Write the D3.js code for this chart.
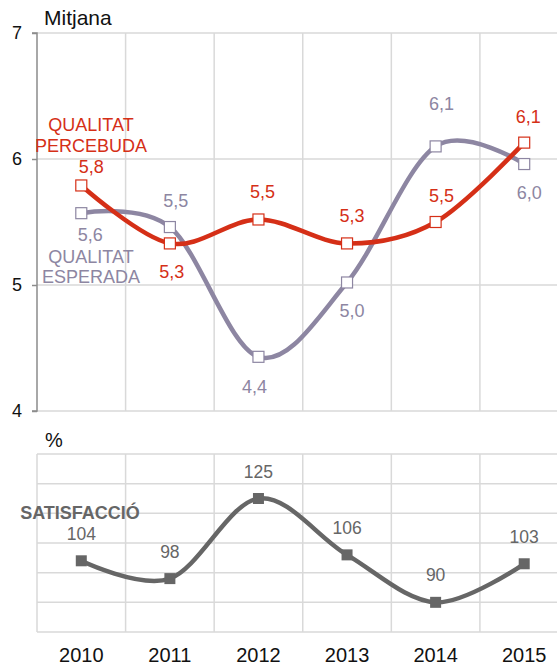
<!DOCTYPE html>
<html>
<head>
<meta charset="utf-8">
<script src="https://cdn.jsdelivr.net/npm/d3@7/dist/d3.min.js"></script>
<style>
    html, body { margin: 0; padding: 0; background: #fff; }
    svg { display: block; font-family: 'Liberation Sans', Arial, sans-serif; }
</style>
</head>
<body>
<svg id="chart" width="557" height="667"></svg>
<script>
const years = ['2010', '2011', '2012', '2013', '2014', '2015'];
const percebuda = [5.79, 5.33, 5.52, 5.33, 5.5, 6.13];
const esperada = [5.57, 5.46, 4.43, 5.02, 6.1, 5.96];
const satisfaccio = [104, 98, 125, 106, 90, 103];
const meanTicks = [4, 5, 6, 7];
const pctTicks = [80, 90, 100, 110, 120, 130, 140];

const RED = '#d52f17';
const LILA = '#8d86a2';
const DARK = '#666666';
const GRID = '#d9d9d9';

const svg = d3.select('#chart');
const W = 557;

const x = d3.scaleBand()
    .domain(years)
    .range([37, 568.5]);
const cx = d => x(d) + x.bandwidth() / 2;
const edges = years.map(d => x(d)).concat([x(years[years.length - 1]) + x.bandwidth()]);

const yTop = d3.scaleLinear().domain([4, 7]).range([411, 33]);
const yBot = d3.scaleLinear().domain([80, 140]).range([632, 454]);

const fmt = v => v.toFixed(1).replace('.', ',');

// ---- top panel grid
const gTop = svg.append('g');
gTop.selectAll('.hgrid')
    .data(meanTicks)
    .enter()
    .append('line')
    .attr('x1', 37).attr('x2', W)
    .attr('y1', d => yTop(d)).attr('y2', d => yTop(d))
    .style('stroke', GRID).style('stroke-width', 1.5);
gTop.selectAll('.vgrid')
    .data(edges.slice(1))
    .enter()
    .append('line')
    .attr('x1', d => d).attr('x2', d => d)
    .attr('y1', yTop(7)).attr('y2', yTop(4))
    .style('stroke', GRID).style('stroke-width', 1.5);

const yAxis = gTop.append('g')
    .attr('transform', 'translate(37,0)')
    .call(d3.axisLeft(yTop).tickValues(meanTicks).tickSize(5).tickPadding(10).tickFormat(d3.format('d')));
yAxis.select('.domain').attr('d', `M-5,${yTop(7)}H0V${yTop(4)}H-5`).style('stroke', '#8c8c8c').style('stroke-width', 1.5);
yAxis.selectAll('.tick line').style('stroke', '#8c8c8c').style('stroke-width', 1.5);
yAxis.selectAll('.tick text')
    .style('font-size', '18px')
    .style('fill', '#111')
    .attr('font-family', null);

gTop.append('text')
    .attr('x', 44).attr('y', 25)
    .style('font-size', '21px')
    .style('fill', '#111')
    .text('Mitjana');

// ---- lines
const curve = d3.curveCardinal.tension(0);
const lineTop = d3.line()
    .x((d, i) => cx(years[i]))
    .y(d => yTop(d))
    .curve(curve);

gTop.append('path')
    .datum(esperada)
    .attr('d', lineTop)
    .style('fill', 'none')
    .style('stroke', LILA)
    .style('stroke-width', 4.5);

gTop.append('path')
    .datum(percebuda)
    .attr('d', lineTop)
    .style('fill', 'none')
    .style('stroke', RED)
    .style('stroke-width', 4.5);

const S = 11;
[[esperada, LILA], [percebuda, RED]].forEach(([vals, col]) => {
    gTop.selectAll(null)
        .data(vals)
        .enter()
        .append('rect')
        .attr('x', (d, i) => cx(years[i]) - S / 2)
        .attr('y', d => yTop(d) - S / 2)
        .attr('width', S).attr('height', S)
        .style('fill', '#fff')
        .style('stroke', col)
        .style('stroke-width', 1.2);
});

// value labels; offsets picked to keep them off the lines
const redOff = [[10, -12], [2, 35], [4, -21], [5, -21], [6, -20], [4, -20]];
const lilaOff = [[9, 28], [6, -20], [-4, 36], [5, 35], [6, -36], [5, 35]];
gTop.selectAll(null)
    .data(percebuda)
    .enter()
    .append('text')
    .attr('x', (d, i) => cx(years[i]) + redOff[i][0])
    .attr('y', (d, i) => yTop(d) + redOff[i][1])
    .attr('text-anchor', 'middle')
    .style('font-size', '18px')
    .style('fill', RED)
    .text(fmt);
gTop.selectAll(null)
    .data(esperada)
    .enter()
    .append('text')
    .attr('x', (d, i) => cx(years[i]) + lilaOff[i][0])
    .attr('y', (d, i) => yTop(d) + lilaOff[i][1])
    .attr('text-anchor', 'middle')
    .style('font-size', '18px')
    .style('fill', LILA)
    .text(fmt);

// series names
const redName = gTop.append('text')
    .attr('text-anchor', 'middle')
    .style('font-size', '18px')
    .style('fill', RED);
redName.append('tspan').attr('x', 91).attr('y', 131).text('QUALITAT');
redName.append('tspan').attr('x', 91).attr('y', 152).text('PERCEBUDA');

const lilaName = gTop.append('text')
    .attr('text-anchor', 'middle')
    .style('font-size', '18px')
    .style('fill', LILA);
lilaName.append('tspan').attr('x', 91).attr('y', 263).text('QUALITAT');
lilaName.append('tspan').attr('x', 91).attr('y', 283).text('ESPERADA');

// ---- bottom panel
const gBot = svg.append('g');
gBot.selectAll('.hgrid')
    .data(pctTicks)
    .enter()
    .append('line')
    .attr('x1', 37).attr('x2', W)
    .attr('y1', d => yBot(d)).attr('y2', d => yBot(d))
    .style('stroke', GRID).style('stroke-width', 1.5);
gBot.selectAll('.vgrid')
    .data(edges)
    .enter()
    .append('line')
    .attr('x1', d => d).attr('x2', d => d)
    .attr('y1', yBot(140)).attr('y2', yBot(80))
    .style('stroke', GRID).style('stroke-width', 1.5);

gBot.append('text')
    .attr('x', 45).attr('y', 447)
    .style('font-size', '20px')
    .style('fill', '#111')
    .text('%');

const lineBot = d3.line()
    .x((d, i) => cx(years[i]))
    .y(d => yBot(d))
    .curve(curve);

gBot.append('path')
    .datum(satisfaccio)
    .attr('d', lineBot)
    .style('fill', 'none')
    .style('stroke', DARK)
    .style('stroke-width', 4.5);

gBot.selectAll(null)
    .data(satisfaccio)
    .enter()
    .append('rect')
    .attr('x', (d, i) => cx(years[i]) - S / 2)
    .attr('y', d => yBot(d) - S / 2)
    .attr('width', S).attr('height', S)
    .style('fill', DARK);

gBot.selectAll(null)
    .data(satisfaccio)
    .enter()
    .append('text')
    .attr('x', (d, i) => cx(years[i]))
    .attr('y', d => yBot(d) - 21)
    .attr('text-anchor', 'middle')
    .style('font-size', '17.5px')
    .style('fill', DARK)
    .text(d => d);

gBot.append('text')
    .attr('x', 80).attr('y', 519)
    .attr('text-anchor', 'middle')
    .style('font-size', '18px')
    .style('font-weight', 'bold')
    .style('fill', DARK)
    .text('SATISFACCIÓ');

// ---- year labels
svg.selectAll('.year')
    .data(years)
    .enter()
    .append('text')
    .attr('x', d => cx(d))
    .attr('y', 662)
    .attr('text-anchor', 'middle')
    .style('font-size', '20px')
    .style('fill', '#111')
    .text(d => d);
</script>
</body>
</html>
